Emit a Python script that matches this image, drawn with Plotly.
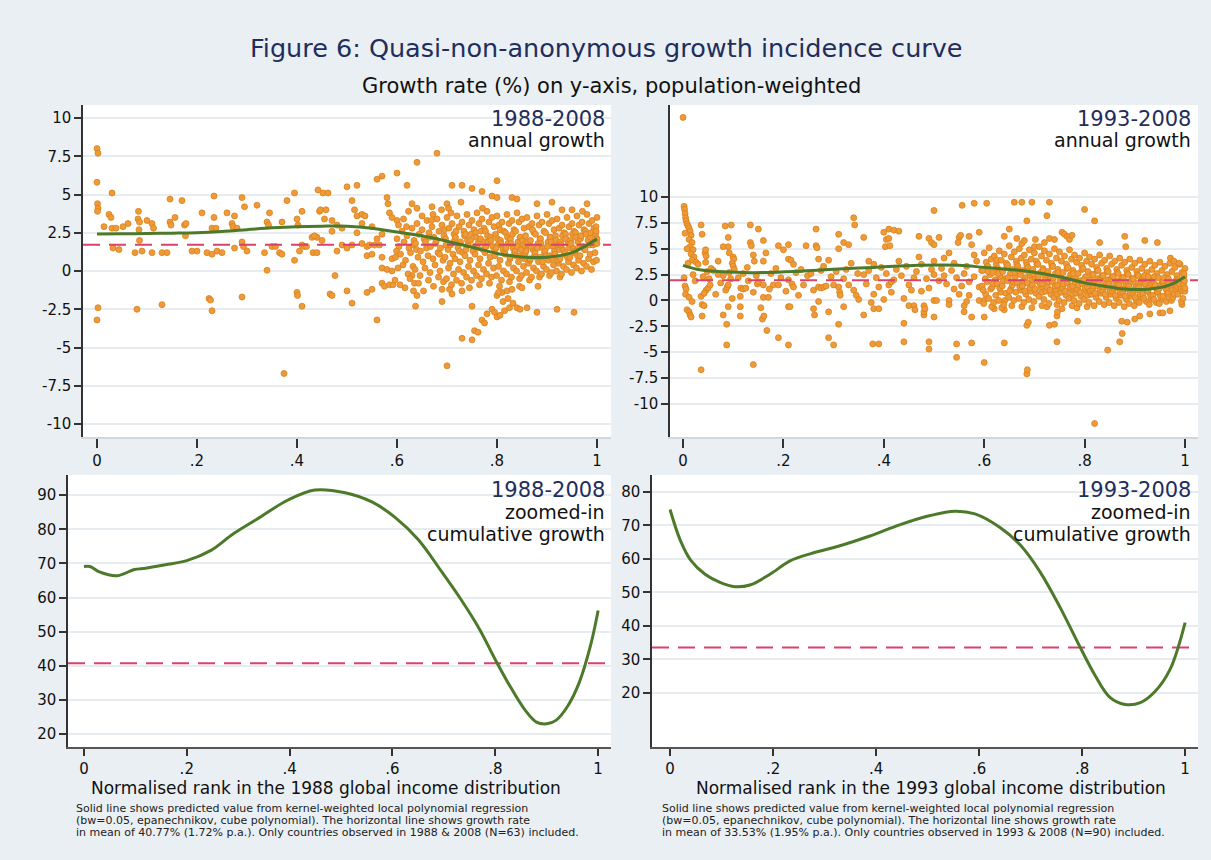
import plotly.graph_objects as go

TITLE = "Figure 6: Quasi-non-anonymous growth incidence curve"
SUBTITLE = "Growth rate (%) on y-axis, population-weighted"

tick_rank_vals = [0, 0.2, 0.4, 0.6, 0.8, 1.0]
tick_rank_text = ["0", ".2", ".4", ".6", ".8", "1"]
tick_annual_vals = [-10, -7.5, -5, -2.5, 0, 2.5, 5, 7.5, 10]
tick_annual_text = ["-10", "-7.5", "-5", "-2.5", "0", "2.5", "5", "7.5", "10"]
tick_cum88_vals = [20, 30, 40, 50, 60, 70, 80, 90]
tick_cum93_vals = [20, 30, 40, 50, 60, 70, 80]

# ---- 1988-2008 annual growth: (rank, growth %) ----
ann88_points = [
(0.000,8.0),(0.002,7.7),(0.000,5.8),(0.001,4.4),(0.002,4.1),(0.001,3.9),(0.002,-2.4),(0.000,-3.2),
(0.030,5.1),(0.024,3.7),(0.028,3.5),(0.014,2.9),(0.030,2.8),(0.038,2.8),(0.032,1.5),(0.044,1.4),
(0.052,2.9),(0.062,3.1),(0.076,1.2),(0.090,1.3),(0.082,3.4),(0.085,3.2),(0.083,3.9),(0.085,2.0),(0.080,-2.5),(0.084,2.7),
(0.100,3.3),(0.110,1.2),(0.110,3.1),(0.113,2.8),(0.130,1.2),(0.140,1.2),(0.130,-2.2),
(0.146,4.7),(0.146,3.2),(0.148,3.0),(0.156,3.5),(0.170,4.6),(0.175,3.0),(0.178,3.1),(0.177,2.3),
(0.190,1.3),(0.200,1.3),(0.210,3.8),(0.224,-1.8),(0.227,-1.9),(0.230,-2.6),
(0.220,1.2),(0.230,1.1),(0.240,1.3),(0.250,1.2),(0.234,4.9),(0.234,3.5),(0.230,2.8),(0.238,2.8),
(0.260,3.8),(0.270,3.1),(0.272,2.9),(0.275,1.5),(0.280,2.8),(0.290,4.8),(0.295,4.2),(0.290,1.9),(0.293,1.6),(0.300,1.3),(0.275,3.6),(0.290,-1.7),
(0.320,4.3),(0.335,1.2),(0.340,3.2),(0.343,3.0),(0.345,3.8),(0.340,0.05),(0.350,1.6),(0.357,1.6),(0.365,1.2),(0.370,1.1),(0.370,3.2),(0.374,-6.7),
(0.380,4.6),(0.395,5.1),(0.395,0.7),(0.400,3.4),(0.402,3.0),(0.410,3.9),(0.410,1.7),(0.415,1.6),(0.419,1.6),(0.405,1.3),(0.400,-1.4),(0.401,-1.6),(0.410,-2.3),
(0.430,2.2),(0.432,1.2),(0.440,1.2),(0.442,5.3),(0.445,3.9),(0.447,4.0),(0.452,5.1),(0.440,2.2),(0.455,3.4),(0.466,-1.5),
(0.462,5.1),(0.458,4.0),(0.470,3.3),(0.435,2.3),(0.450,2.0),
(0.476,-0.3),(0.470,-1.6),(0.500,-1.3),(0.510,-2.1),(0.540,-1.4),(0.550,-1.2),(0.560,-3.2),
(0.500,5.5),(0.520,5.6),(0.510,4.6),(0.515,4.0),(0.520,3.6),(0.530,3.7),(0.536,3.6),
(0.560,6.0),(0.570,6.2),(0.600,6.4),(0.620,5.6),(0.640,7.1),(0.680,7.7),
(0.580,4.8),(0.582,4.4),(0.585,3.8),(0.590,3.5),
(0.480,1.3),(0.490,1.7),(0.500,1.5),(0.510,1.7),(0.530,1.8),(0.540,1.6),(0.545,1.7),(0.555,1.7),(0.565,1.7),
(0.540,1.0),(0.550,1.1),(0.570,0.9),(0.590,0.8),(0.570,0.2),(0.580,0.1),(0.590,0.0),
(0.570,-0.8),(0.575,-1.0),(0.585,-0.9),(0.592,-0.9),
(0.470,2.6),(0.490,2.8),(0.520,2.5),(0.550,2.9),(0.570,2.4),(0.480,3.0),(0.530,3.1),(0.560,2.1),(0.600,3.3),
(0.710,5.6),(0.730,5.6),(0.750,5.4),(0.770,5.2),(0.790,4.9),(0.800,4.8),(0.830,4.8),(0.840,4.7),(0.800,5.9),(0.880,4.4),(0.910,4.5),(0.930,4.0),(0.950,4.0),(0.980,4.4),(0.630,4.4),(0.640,4.1),(0.650,3.6),(0.670,4.2),(0.672,3.7),(0.700,4.4),(0.703,4.1),
(0.630,-0.3),(0.635,-0.8),(0.633,-1.3),(0.640,-1.6),(0.637,-2.3),(0.690,-2.0),(0.700,-6.2),(0.690,-1.2),(0.710,-1.5),(0.730,-1.3),
(0.730,-4.4),(0.750,-4.5),(0.755,-3.9),(0.762,-4.0),(0.750,-2.3),(0.770,-3.2),(0.775,-3.4),(0.780,-2.8),(0.790,-2.5),(0.795,-2.7),(0.800,-3.0),(0.806,-2.9),
(0.800,-1.6),(0.810,-1.4),(0.812,-2.0),(0.815,-2.6),(0.820,-1.3),(0.822,-1.8),(0.825,-2.4),(0.830,-1.2),(0.832,-2.1),(0.840,-2.4),(0.845,-1.0),(0.850,-1.1),(0.846,-2.5),(0.860,-2.4),
(0.880,-2.7),(0.882,-1.0),(0.920,-2.5),(0.954,-2.7),(0.803,-1.4),
(0.600,2.1),(0.604,1.6),(0.597,0.9),(0.602,0.2),(0.596,-0.6),(0.603,3.0),(0.599,1.3),
(0.610,2.6),(0.614,1.9),(0.607,1.1),(0.612,0.4),(0.606,-0.9),(0.613,3.4),
(0.620,2.3),(0.624,1.5),(0.617,0.7),(0.622,-0.2),(0.616,-1.1),(0.623,3.9),(0.619,2.9),
(0.630,2.8),(0.634,2.0),(0.627,1.2),(0.632,0.3),(0.626,-0.5),(0.633,1.7),
(0.640,3.1),(0.644,2.4),(0.637,1.8),(0.642,0.9),(0.636,0.1),(0.643,-0.8),(0.639,1.4),
(0.650,2.7),(0.654,2.1),(0.647,1.3),(0.652,0.6),(0.646,-0.3),(0.653,-1.3),
(0.660,3.3),(0.664,2.5),(0.657,1.9),(0.662,1.0),(0.656,0.2),(0.663,-0.6),(0.659,1.5),(0.665,2.2),
(0.670,2.9),(0.674,2.2),(0.667,1.6),(0.672,0.8),(0.666,-0.1),(0.673,-1.0),(0.669,3.3),
(0.680,3.4),(0.684,2.6),(0.677,1.8),(0.682,1.2),(0.676,0.4),(0.683,-0.4),(0.679,2.0),(0.685,1.1),
(0.690,3.0),(0.694,2.3),(0.687,1.5),(0.692,0.7),(0.686,0.0),(0.693,-0.7),(0.689,4.0),(0.695,2.7),
(0.700,3.5),(0.704,2.8),(0.697,2.1),(0.702,1.4),(0.696,0.9),(0.703,0.2),(0.699,-0.5),(0.705,-1.2),(0.698,1.7),
(0.710,3.1),(0.714,2.4),(0.707,1.7),(0.712,1.1),(0.706,0.5),(0.713,-0.2),(0.709,-0.9),(0.715,2.0),(0.708,3.8),
(0.720,3.6),(0.724,2.9),(0.717,2.2),(0.722,1.5),(0.716,0.8),(0.723,0.1),(0.719,-0.6),(0.725,1.3),(0.718,2.6),
(0.730,3.2),(0.734,2.6),(0.727,1.9),(0.732,1.2),(0.726,0.6),(0.733,-0.1),(0.729,-0.8),(0.735,2.3),(0.728,4.5),
(0.740,3.7),(0.744,3.0),(0.737,2.4),(0.742,1.7),(0.736,1.0),(0.743,0.3),(0.739,-0.4),(0.745,-1.1),(0.738,1.4),(0.741,2.0),
(0.750,3.3),(0.754,2.7),(0.747,2.0),(0.752,1.3),(0.746,0.7),(0.753,0.0),(0.749,-0.6),(0.755,1.6),(0.748,2.4),
(0.760,3.8),(0.764,3.1),(0.757,2.5),(0.762,1.8),(0.756,1.1),(0.763,0.4),(0.759,-0.3),(0.765,-0.9),(0.758,2.2),(0.761,1.5),
(0.770,3.4),(0.774,2.8),(0.767,2.1),(0.772,1.4),(0.766,0.8),(0.773,0.1),(0.769,-0.5),(0.775,1.9),(0.768,2.6),(0.771,4.1),
(0.780,3.9),(0.784,3.2),(0.777,2.6),(0.782,1.9),(0.776,1.2),(0.783,0.5),(0.779,-0.2),(0.785,-0.8),(0.778,1.6),(0.781,2.3),
(0.790,3.5),(0.794,2.9),(0.787,2.2),(0.792,1.6),(0.786,0.9),(0.793,0.2),(0.789,-0.4),(0.795,1.3),(0.788,2.0),
(0.800,3.6),(0.804,3.0),(0.797,2.4),(0.802,1.7),(0.796,1.0),(0.803,0.3),(0.799,-0.3),(0.805,-1.0),(0.798,1.5),(0.801,2.1),(0.806,2.7),
(0.810,3.2),(0.814,2.6),(0.807,2.0),(0.812,1.4),(0.806,0.7),(0.813,0.0),(0.809,-0.6),(0.815,1.2),(0.808,1.8),
(0.820,3.7),(0.824,3.1),(0.817,2.5),(0.822,1.8),(0.816,1.1),(0.823,0.5),(0.819,-0.2),(0.825,-0.7),(0.818,1.5),(0.821,2.2),(0.826,0.8),
(0.830,3.3),(0.834,2.7),(0.827,2.1),(0.832,1.5),(0.826,0.9),(0.833,0.2),(0.829,-0.4),(0.835,1.2),(0.828,1.8),(0.831,2.4),
(0.840,3.8),(0.844,3.2),(0.837,2.6),(0.842,1.9),(0.836,1.3),(0.843,0.6),(0.839,0.0),(0.845,-0.5),(0.838,1.0),(0.841,1.6),(0.846,2.2),
(0.850,3.4),(0.854,2.8),(0.847,2.2),(0.852,1.6),(0.846,1.0),(0.853,0.3),(0.849,-0.3),(0.855,0.8),(0.848,1.4),(0.851,2.0),
(0.860,3.5),(0.864,2.9),(0.857,2.3),(0.862,1.7),(0.856,1.1),(0.863,0.5),(0.859,-0.1),(0.865,-0.6),(0.858,1.3),(0.861,1.9),(0.866,0.7),
(0.870,3.1),(0.874,2.5),(0.867,2.0),(0.872,1.4),(0.866,0.8),(0.873,0.2),(0.869,-0.4),(0.875,1.0),(0.868,1.6),(0.871,2.7),
(0.880,3.6),(0.884,3.0),(0.877,2.4),(0.882,1.8),(0.876,1.2),(0.883,0.6),(0.879,0.0),(0.885,-0.4),(0.878,0.9),(0.881,1.5),(0.886,2.1),
(0.890,3.2),(0.894,2.6),(0.887,2.1),(0.892,1.5),(0.886,0.9),(0.893,0.3),(0.889,-0.2),(0.895,1.2),(0.888,1.8),(0.891,0.6),
(0.900,3.7),(0.904,3.1),(0.897,2.5),(0.902,1.9),(0.896,1.3),(0.903,0.7),(0.899,0.1),(0.905,-0.3),(0.898,1.0),(0.901,1.6),(0.906,2.2),
(0.910,3.3),(0.914,2.7),(0.907,2.2),(0.912,1.6),(0.906,1.0),(0.913,0.4),(0.909,-0.1),(0.915,1.3),(0.908,1.9),(0.911,0.8),
(0.920,3.4),(0.924,2.8),(0.917,2.3),(0.922,1.7),(0.916,1.1),(0.923,0.5),(0.919,0.0),(0.925,1.4),(0.918,2.0),(0.921,0.7),(0.926,-0.4),
(0.930,3.0),(0.934,2.5),(0.927,1.9),(0.932,1.4),(0.926,0.8),(0.933,0.3),(0.929,-0.2),(0.935,1.1),(0.928,1.7),(0.931,2.3),
(0.940,3.5),(0.944,2.9),(0.937,2.4),(0.942,1.8),(0.936,1.2),(0.943,0.6),(0.939,0.1),(0.945,1.5),(0.938,2.1),(0.941,0.9),
(0.950,3.1),(0.954,2.6),(0.947,2.0),(0.952,1.5),(0.946,0.9),(0.953,0.4),(0.949,-0.1),(0.955,1.2),(0.948,1.8),(0.951,2.4),
(0.960,3.6),(0.964,3.0),(0.957,2.5),(0.962,1.9),(0.956,1.3),(0.963,0.7),(0.959,0.2),(0.965,1.6),(0.958,2.2),(0.961,1.0),
(0.970,3.2),(0.974,2.7),(0.967,2.1),(0.972,1.6),(0.966,1.0),(0.973,0.5),(0.969,0.0),(0.975,1.4),(0.968,2.3),(0.971,3.9),
(0.980,3.7),(0.984,3.1),(0.977,2.6),(0.982,2.0),(0.976,1.4),(0.983,0.8),(0.979,0.3),(0.985,1.7),(0.978,2.4),
(0.990,3.3),(0.994,2.8),(0.987,2.2),(0.992,1.7),(0.986,1.1),(0.993,0.6),(0.989,0.1),(0.995,1.9),(0.988,2.5),
(1.000,3.5),(0.998,2.9),(0.997,2.4),(1.000,1.8),(0.996,1.2),(0.999,0.7),(1.000,2.1),(0.998,2.6),
]

# ---- 1993-2008 annual growth: (rank, growth %) ----
ann93_points = [
(0.000,17.7),(0.002,9.1),(0.003,8.8),(0.004,8.4),(0.005,8.0),(0.006,7.7),(0.008,7.4),(0.010,7.2),(0.012,7.0),(0.014,6.7),(0.016,6.3),(0.012,5.9),(0.018,5.6),(0.014,5.2),(0.020,4.9),(0.016,4.5),(0.022,4.2),(0.018,3.9),(0.026,3.7),(0.030,3.5),(0.010,3.6),(0.004,6.5),(0.008,5.0),
(0.002,2.2),(0.004,1.4),(0.006,1.1),(0.005,0.6),(0.012,0.3),(0.018,-0.1),(0.008,-0.9),(0.012,-1.1),(0.014,-1.4),(0.016,-1.6),(0.020,2.5),(0.024,1.9),
(0.036,7.3),(0.038,6.4),(0.044,4.6),(0.045,4.9),(0.046,4.3),(0.045,3.7),(0.036,0.4),(0.038,-0.4),(0.042,-0.5),(0.046,1.0),(0.042,0.7),(0.050,1.2),(0.054,1.5),(0.038,-1.5),(0.036,-6.7),(0.040,2.3),(0.048,2.8),(0.052,2.1),(0.056,3.1),
(0.070,3.8),(0.070,2.5),(0.080,2.4),(0.080,-1.4),(0.085,1.0),(0.088,1.3),(0.090,1.5),(0.087,-2.3),(0.087,-4.3),(0.090,-0.6),(0.084,7.2),(0.096,7.3),(0.080,5.2),(0.090,5.2),(0.090,6.1),(0.092,4.6),(0.100,4.2),(0.101,4.0),(0.098,3.6),(0.100,3.3),(0.102,3.0),(0.095,2.1),(0.092,2.7),(0.098,0.2),(0.060,2.9),(0.065,0.6),(0.075,1.7),
(0.114,0.4),(0.114,-0.6),(0.114,-1.5),(0.115,1.2),(0.120,1.1),(0.125,1.2),(0.140,0.8),(0.140,-6.2),(0.130,1.9),(0.134,7.3),(0.150,6.9),(0.134,5.6),(0.136,5.3),(0.140,4.4),(0.142,3.8),(0.120,2.6),(0.128,3.2),(0.146,2.4),(0.110,2.2),(0.148,1.6),
(0.150,1.8),(0.160,1.5),(0.155,-0.7),(0.158,-1.8),(0.161,-1.5),(0.160,0.3),(0.170,0.3),(0.167,-2.9),(0.180,1.5),(0.190,1.5),(0.190,-3.6),(0.160,5.8),(0.165,4.6),(0.160,3.8),(0.190,5.3),(0.175,2.6),(0.185,3.1),(0.195,2.2),(0.172,1.1),
(0.200,4.9),(0.210,5.4),(0.210,4.0),(0.215,3.9),(0.220,3.5),(0.210,-0.6),(0.213,-0.6),(0.210,-4.3),(0.210,2.0),(0.217,1.6),(0.220,1.3),(0.230,0.5),(0.240,1.5),(0.245,5.3),(0.225,2.7),(0.235,3.0),(0.248,2.4),(0.205,0.9),
(0.265,6.9),(0.265,5.3),(0.267,5.1),(0.270,4.0),(0.260,1.0),(0.260,-0.8),(0.262,-1.4),(0.270,-0.1),(0.270,1.3),(0.275,1.2),(0.280,1.3),(0.285,1.4),(0.290,3.9),(0.290,-1.1),(0.290,-3.6),(0.300,-4.3),(0.300,1.5),(0.255,2.6),(0.275,2.9),(0.295,2.3),(0.280,3.3),
(0.310,6.4),(0.310,5.0),(0.320,5.6),(0.330,5.4),(0.310,1.3),(0.312,0.8),(0.313,0.5),(0.310,-2.3),(0.320,-0.6),(0.320,2.1),(0.330,1.5),(0.340,1.0),(0.345,0.5),(0.350,0.1),(0.340,8.0),(0.342,7.3),(0.325,3.0),(0.335,3.6),(0.348,2.6),(0.305,2.8),
(0.360,6.1),(0.370,3.8),(0.380,3.5),(0.360,-1.4),(0.375,-0.2),(0.380,-0.8),(0.390,-0.8),(0.380,0.6),(0.378,-4.2),(0.390,-4.2),(0.400,0.1),(0.360,2.5),(0.370,2.9),(0.385,2.2),(0.395,3.2),(0.365,1.6),(0.390,1.3),
(0.400,6.6),(0.405,5.9),(0.410,6.9),(0.403,5.2),(0.410,6.0),(0.412,5.3),(0.420,6.8),(0.430,6.7),(0.430,3.8),(0.410,1.5),(0.415,1.8),(0.420,2.0),(0.440,-4.0),(0.440,-2.2),(0.440,0.2),(0.450,-0.5),(0.450,1.5),(0.405,2.6),(0.425,3.0),(0.435,2.4),(0.445,3.3),(0.415,0.8),
(0.455,1.0),(0.460,-0.5),(0.462,-0.9),(0.470,6.2),(0.480,-1.4),(0.500,-1.6),(0.490,-4.0),(0.490,-4.7),(0.480,-1.1),(0.480,-0.5),(0.482,-0.8),(0.500,0.0),(0.505,0.0),(0.500,8.7),(0.490,6.0),(0.495,5.6),(0.500,5.4),(0.510,6.1),(0.465,2.8),(0.475,3.5),(0.485,2.1),(0.495,3.0),(0.470,4.2),(0.490,1.2),(0.460,2.2),(0.475,0.9),(0.500,2.5),(0.500,3.8),
(0.530,0.0),(0.530,-0.4),(0.545,-4.2),(0.545,-5.5),(0.550,6.1),(0.553,6.3),(0.548,5.6),(0.556,9.2),(0.520,2.4),(0.515,3.1),(0.525,1.6),(0.535,2.9),(0.540,3.6),(0.540,1.1),(0.510,1.9),(0.520,4.1),(0.530,4.6),(0.545,2.2),(0.550,0.6),
(0.560,-1.1),(0.560,-0.5),(0.565,-0.1),(0.575,-4.1),(0.575,-1.6),(0.590,0.0),(0.600,0.0),(0.600,-1.6),(0.600,-6.0),(0.580,9.4),(0.605,9.4),(0.570,6.2),(0.575,5.4),(0.590,6.6),(0.560,2.6),(0.565,3.3),(0.570,1.8),(0.580,2.3),(0.585,3.8),(0.590,1.3),(0.595,2.9),(0.580,4.4),(0.555,1.4),(0.570,0.5),
(0.620,-0.8),(0.640,-0.9),(0.641,0.0),(0.640,-4.1),(0.660,9.5),(0.675,9.5),(0.695,9.5),(0.730,9.5),(0.725,8.2),(0.685,7.7),(0.800,8.8),(0.820,7.7),(0.685,-7.1),(0.686,-6.7),(0.685,-2.4),(0.688,-2.1),(0.730,-2.4),(0.740,-2.3),(0.745,-1.5),(0.746,-1.1),(0.745,-4.0),(0.786,-2.0),(0.820,-11.9),(0.846,-4.8),(0.870,-4.0),(0.875,-3.2),(0.874,-2.0),(0.885,-2.1),(0.900,-1.8),(0.910,-1.5),(0.930,-1.3),(0.950,-1.2),(0.956,-1.2),(0.970,-1.0),(0.994,-0.4),
(0.640,6.2),(0.650,6.9),(0.665,6.0),(0.675,5.5),(0.680,5.8),(0.700,5.2),(0.702,5.9),(0.720,5.6),(0.730,6.0),(0.740,5.9),(0.755,6.6),(0.760,6.4),(0.765,6.2),(0.770,5.9),(0.775,6.3),(0.830,5.6),(0.880,6.2),(0.920,5.8),(0.945,5.6),(0.882,5.2),
(0.600,4.6),(0.604,3.7),(0.597,2.9),(0.602,2.1),(0.596,1.4),(0.603,0.6),(0.599,-0.3),(0.605,3.2),(0.598,1.0),
(0.610,5.1),(0.614,4.0),(0.607,3.3),(0.612,2.5),(0.606,1.8),(0.613,1.1),(0.609,0.2),(0.615,-0.6),(0.608,2.8),
(0.620,4.3),(0.624,3.5),(0.617,2.7),(0.622,2.0),(0.616,1.3),(0.623,0.5),(0.619,-0.2),(0.625,3.9),(0.618,1.6),
(0.630,4.8),(0.634,3.9),(0.627,3.1),(0.632,2.3),(0.626,1.6),(0.633,0.8),(0.629,0.0),(0.635,-0.7),(0.628,2.6),(0.631,1.2),
(0.640,4.5),(0.644,3.6),(0.637,2.8),(0.642,2.1),(0.636,1.4),(0.643,0.7),(0.639,-0.4),(0.645,3.2),(0.638,1.9),
(0.650,5.3),(0.654,4.2),(0.647,3.4),(0.652,2.6),(0.646,1.9),(0.653,1.1),(0.649,0.3),(0.655,-0.5),(0.648,2.2),(0.651,0.9),
(0.660,4.7),(0.664,3.8),(0.657,3.0),(0.662,2.3),(0.656,1.5),(0.663,0.8),(0.659,0.0),(0.665,3.5),(0.658,1.8),(0.661,2.7),
(0.670,5.0),(0.674,4.1),(0.667,3.3),(0.672,2.5),(0.666,1.7),(0.673,1.0),(0.669,0.2),(0.675,-0.6),(0.668,2.9),(0.671,1.3),
(0.680,4.4),(0.684,3.7),(0.677,2.9),(0.682,2.2),(0.676,1.4),(0.683,0.6),(0.679,-0.2),(0.685,3.4),(0.678,1.9),(0.681,0.9),
(0.690,4.9),(0.694,4.0),(0.687,3.2),(0.692,2.4),(0.686,1.7),(0.693,0.9),(0.689,0.1),(0.695,-0.7),(0.688,2.8),(0.691,1.2),(0.696,2.0),
(0.700,4.6),(0.704,3.8),(0.697,3.0),(0.702,2.2),(0.696,1.5),(0.703,0.7),(0.699,-0.1),(0.705,3.5),(0.698,2.6),(0.701,1.1),
(0.710,5.2),(0.714,4.3),(0.707,3.5),(0.712,2.7),(0.706,1.9),(0.713,1.2),(0.709,0.4),(0.715,-0.5),(0.708,2.3),(0.711,1.6),(0.716,0.8),
(0.720,4.8),(0.724,3.9),(0.717,3.1),(0.722,2.4),(0.716,1.6),(0.723,0.9),(0.719,0.1),(0.725,-0.6),(0.718,2.9),(0.721,2.0),
(0.730,4.5),(0.734,3.6),(0.727,2.8),(0.732,2.1),(0.726,1.3),(0.733,0.6),(0.729,-0.3),(0.735,3.3),(0.728,1.8),(0.731,1.0),
(0.740,5.0),(0.744,4.1),(0.737,3.3),(0.742,2.6),(0.736,1.8),(0.743,1.0),(0.739,0.3),(0.745,-0.4),(0.738,2.2),(0.741,1.4),(0.746,0.6),
(0.750,4.7),(0.754,3.8),(0.747,3.0),(0.752,2.3),(0.746,1.5),(0.753,0.8),(0.749,0.0),(0.755,-0.8),(0.748,2.7),(0.751,1.9),(0.756,1.2),
(0.760,4.3),(0.764,3.5),(0.757,2.7),(0.762,2.0),(0.756,1.2),(0.763,0.5),(0.759,-0.2),(0.765,3.1),(0.758,1.6),(0.761,0.9),
(0.770,4.9),(0.774,4.0),(0.767,3.2),(0.772,2.5),(0.766,1.7),(0.773,1.0),(0.769,0.2),(0.775,-0.5),(0.768,2.1),(0.771,1.3),(0.776,0.6),
(0.780,4.4),(0.784,3.7),(0.777,2.9),(0.782,2.2),(0.776,1.4),(0.783,0.7),(0.779,0.0),(0.785,-0.7),(0.778,2.6),(0.781,1.8),(0.786,1.1),
(0.790,4.1),(0.794,3.4),(0.787,2.6),(0.792,1.9),(0.786,1.1),(0.793,0.4),(0.789,-0.3),(0.795,3.0),(0.788,1.5),(0.791,0.8),
(0.800,4.6),(0.804,3.8),(0.797,3.1),(0.802,2.3),(0.796,1.6),(0.803,0.9),(0.799,0.1),(0.805,-0.6),(0.798,2.0),(0.801,1.2),(0.806,0.5),
(0.810,4.2),(0.814,3.5),(0.807,2.8),(0.812,2.0),(0.806,1.3),(0.813,0.6),(0.809,-0.2),(0.815,2.5),(0.808,1.7),(0.811,0.9),
(0.820,4.0),(0.824,3.2),(0.817,2.5),(0.822,1.8),(0.816,1.0),(0.823,0.3),(0.819,-0.5),(0.825,2.9),(0.818,1.4),(0.821,0.7),(0.826,2.1),
(0.830,4.4),(0.834,3.6),(0.827,2.9),(0.832,2.1),(0.826,1.4),(0.833,0.7),(0.829,-0.1),(0.835,2.4),(0.828,1.7),(0.831,1.0),
(0.840,3.9),(0.844,3.1),(0.837,2.4),(0.842,1.7),(0.836,1.0),(0.843,0.3),(0.839,-0.4),(0.845,2.8),(0.838,1.3),(0.841,0.6),(0.846,2.0),
(0.850,4.3),(0.854,3.5),(0.847,2.8),(0.852,2.0),(0.846,1.3),(0.853,0.6),(0.849,-0.2),(0.855,2.3),(0.848,1.6),(0.851,0.9),
(0.860,3.8),(0.864,3.0),(0.857,2.3),(0.862,1.6),(0.856,0.9),(0.863,0.2),(0.859,-0.5),(0.865,2.7),(0.858,1.2),(0.861,0.5),(0.866,1.9),
(0.870,4.1),(0.874,3.4),(0.867,2.6),(0.872,1.9),(0.866,1.2),(0.873,0.5),(0.869,-0.2),(0.875,2.2),(0.868,1.5),(0.871,0.8),
(0.880,3.7),(0.884,2.9),(0.877,2.2),(0.882,1.5),(0.876,0.8),(0.883,0.1),(0.879,-0.6),(0.885,2.6),(0.878,1.1),(0.881,0.4),(0.886,1.8),
(0.890,4.0),(0.894,3.2),(0.887,2.5),(0.892,1.8),(0.886,1.1),(0.893,0.4),(0.889,-0.3),(0.895,2.1),(0.888,1.4),(0.891,0.7),
(0.900,3.6),(0.904,2.8),(0.897,2.1),(0.902,1.4),(0.896,0.7),(0.903,0.0),(0.899,-0.5),(0.905,2.5),(0.898,1.0),(0.901,0.3),(0.906,1.7),
(0.910,3.9),(0.914,3.1),(0.907,2.4),(0.912,1.7),(0.906,1.0),(0.913,0.3),(0.909,-0.2),(0.915,2.0),(0.908,1.3),(0.911,0.6),
(0.920,3.5),(0.924,2.7),(0.917,2.0),(0.922,1.3),(0.916,0.6),(0.923,-0.1),(0.919,2.4),(0.925,0.9),(0.918,0.2),(0.921,1.6),
(0.930,3.8),(0.934,3.0),(0.927,2.3),(0.932,1.6),(0.926,0.9),(0.933,0.2),(0.929,-0.4),(0.935,1.9),(0.928,1.2),(0.931,0.5),
(0.940,3.4),(0.944,2.6),(0.937,1.9),(0.942,1.2),(0.936,0.5),(0.943,-0.2),(0.939,2.3),(0.945,0.8),(0.938,0.1),(0.941,1.5),
(0.950,3.7),(0.954,2.9),(0.947,2.2),(0.952,1.5),(0.946,0.8),(0.953,0.1),(0.949,-0.3),(0.955,1.8),(0.948,1.1),(0.951,0.4),
(0.960,3.3),(0.964,2.5),(0.957,1.8),(0.962,1.1),(0.956,0.4),(0.963,-0.1),(0.959,2.2),(0.965,0.7),(0.958,1.4),
(0.970,3.6),(0.974,2.8),(0.967,2.1),(0.972,1.4),(0.966,0.7),(0.973,0.0),(0.969,1.7),(0.975,1.0),(0.968,0.3),(0.971,4.1),
(0.980,3.2),(0.984,2.4),(0.977,1.7),(0.982,1.0),(0.976,0.3),(0.983,2.0),(0.979,0.6),(0.985,1.3),(0.978,3.8),
(0.990,3.5),(0.994,2.7),(0.987,2.0),(0.992,1.3),(0.986,0.6),(0.993,-0.1),(0.989,1.6),(0.995,0.9),(0.988,3.6),
(1.000,3.1),(0.998,2.3),(0.997,1.6),(1.000,0.9),(0.996,0.2),(0.999,1.9),(1.000,1.2),(0.998,2.6),
]

# ---- smoothed (kernel-weighted local polynomial) fits ----
fit88_rank = [0, 0.05, 0.1, 0.15, 0.2, 0.25, 0.3, 0.35, 0.4, 0.45, 0.5, 0.55, 0.6, 0.65, 0.7, 0.75, 0.8, 0.85, 0.9, 0.95, 1.0]
fit88_annual = [2.42, 2.43, 2.45, 2.47, 2.5, 2.58, 2.7, 2.82, 2.9, 2.93, 2.93, 2.8, 2.55, 2.3, 1.95, 1.55, 1.15, 0.92, 0.9, 1.2, 2.1]

fit93_rank = [0, 0.03, 0.07, 0.12, 0.16, 0.22, 0.29, 0.38, 0.47, 0.55, 0.6, 0.65, 0.69, 0.75, 0.8, 0.85, 0.88, 0.93, 0.97, 1.0]
fit93_annual = [3.4, 3.0, 2.8, 2.7, 2.7, 2.8, 3.0, 3.2, 3.4, 3.4, 3.2, 3.0, 2.8, 2.3, 1.7, 1.3, 1.1, 1.1, 1.5, 2.3]

cum88_rank = [0, 0.012, 0.03, 0.065, 0.098, 0.12, 0.158, 0.2, 0.247, 0.29, 0.337, 0.396, 0.449, 0.508, 0.56, 0.605,
              0.65, 0.695, 0.732, 0.769, 0.8, 0.829, 0.858, 0.88, 0.9, 0.918, 0.94, 0.963, 0.985, 1.0]
cum88_growth = [69.1, 69.1, 67.5, 66.4, 68.2, 68.6, 69.6, 70.8, 73.8, 78.6, 83.0, 88.5, 91.5, 90.7, 88.0, 83.5,
                77.0, 67.7, 59.7, 50.8, 41.8, 33.9, 27.0, 23.5, 23.0, 24.0, 28.0, 35.0, 45.8, 56.2]

cum93_rank = [0, 0.02, 0.04, 0.068, 0.097, 0.126, 0.155, 0.194, 0.233, 0.272, 0.33, 0.388, 0.447, 0.505, 0.553, 0.592,
              0.64, 0.68, 0.718, 0.757, 0.796, 0.825, 0.854, 0.883, 0.913, 0.942, 0.971, 1.0]
cum93_growth = [74.7, 65.5, 59.6, 55.4, 53.0, 51.7, 52.2, 55.4, 59.4, 61.5, 63.9, 66.8, 70.2, 72.9, 74.2, 73.4,
                69.4, 64.1, 56.2, 45.6, 33.7, 25.3, 18.7, 16.6, 17.1, 20.5, 27.1, 41.0]

mean_annual_88 = 1.72
mean_cum_88 = 40.77
mean_annual_93 = 1.95
mean_cum_93 = 33.53

notes_88 = ["Solid line shows predicted value from kernel-weighted local polynomial regression",
            "(bw=0.05, epanechnikov, cube polynomial). The horizontal line shows growth rate",
            "in mean of 40.77% (1.72% p.a.). Only countries observed in 1988 & 2008 (N=63) included."]
notes_93 = ["Solid line shows predicted value from kernel-weighted local polynomial regression",
            "(bw=0.05, epanechnikov, cube polynomial). The horizontal line shows growth rate",
            "in mean of 33.53% (1.95% p.a.). Only countries observed in 1993 & 2008 (N=90) included."]

# ---------------- styling / layout ----------------
W, H = 1211, 860
FONT = "DejaVu Sans, Liberation Sans, sans-serif"
BG = "#e9eff3"
GRID = "#e6ecf0"
ORANGE = "#EE9A3A"
ORANGE_EDGE = "#DB8217"
GREEN = "#4C7A2A"
PINK = "#D8436E"
NAVY = "#1F2E5C"
DASH = "17px,9px"


def px(x):
    return x / W


def py(y):
    return 1 - y / H


panels = {
    "tl": dict(x=(83, 611), y=(105, 437), xr=[-0.028, 1.028], yr=[-10.85, 10.85]),
    "tr": dict(x=(670, 1198), y=(105, 437), xr=[-0.026, 1.026], yr=[-13.2, 18.9]),
    "bl": dict(x=(68, 611), y=(475, 747), xr=[-0.031, 1.025], yr=[16.2, 95.9]),
    "br": dict(x=(652, 1198), y=(475, 747), xr=[-0.035, 1.025], yr=[3.9, 85.0]),
}
axis_ids = {"tl": ("x", "y"), "tr": ("x2", "y2"), "bl": ("x3", "y3"), "br": ("x4", "y4")}

fig = go.Figure()


def add_scatter(points, ax):
    xa, ya = axis_ids[ax]
    fig.add_trace(go.Scatter(
        x=[p[0] for p in points], y=[p[1] for p in points], mode="markers",
        marker=dict(size=6, color=ORANGE, line=dict(color=ORANGE_EDGE, width=0.8)),
        xaxis=xa, yaxis=ya, hoverinfo="skip"))


def add_mean(val, ax):
    xa, ya = axis_ids[ax]
    xr = panels[ax]["xr"]
    fig.add_trace(go.Scatter(x=[xr[0], xr[1]], y=[val, val], mode="lines",
                             line=dict(color=PINK, width=2, dash=DASH),
                             xaxis=xa, yaxis=ya, hoverinfo="skip"))


def add_fit(xs, ys, ax):
    xa, ya = axis_ids[ax]
    fig.add_trace(go.Scatter(x=xs, y=ys, mode="lines",
                             line=dict(color=GREEN, width=3, shape="spline", smoothing=1.0),
                             xaxis=xa, yaxis=ya, hoverinfo="skip"))


add_scatter(ann88_points, "tl")
add_mean(mean_annual_88, "tl")
add_fit(fit88_rank, fit88_annual, "tl")

add_scatter(ann93_points, "tr")
add_mean(mean_annual_93, "tr")
add_fit(fit93_rank, fit93_annual, "tr")

add_mean(mean_cum_88, "bl")
add_fit(cum88_rank, cum88_growth, "bl")

add_mean(mean_cum_93, "br")
add_fit(cum93_rank, cum93_growth, "br")

layout = dict(
    width=W, height=H, autosize=False,
    margin=dict(l=0, r=0, t=0, b=0, pad=0),
    paper_bgcolor=BG, plot_bgcolor="white",
    showlegend=False, hovermode=False,
    font=dict(family=FONT, size=15, color="#111"),
)

for key, (xa, ya) in axis_ids.items():
    p = panels[key]
    xname = "xaxis" if xa == "x" else "xaxis" + xa[1:]
    yname = "yaxis" if ya == "y" else "yaxis" + ya[1:]
    top = key in ("tl", "tr")
    if top:
        yt_vals, yt_text = tick_annual_vals, tick_annual_text
    elif key == "bl":
        yt_vals, yt_text = tick_cum88_vals, [str(v) for v in tick_cum88_vals]
    else:
        yt_vals, yt_text = tick_cum93_vals, [str(v) for v in tick_cum93_vals]
    layout[xname] = dict(
        domain=[px(p["x"][0]), px(p["x"][1])], range=p["xr"], anchor=ya,
        tickvals=tick_rank_vals, ticktext=tick_rank_text,
        ticks="outside", ticklen=9 if top else 7, tickwidth=1.5, tickcolor="#333",
        showline=True, linecolor="#cfd7dc" if top else "#555", linewidth=1.5,
        showgrid=False, zeroline=False, tickfont=dict(size=15, color="#111"),
        fixedrange=True,
    )
    layout[yname] = dict(
        domain=[py(p["y"][1]), py(p["y"][0])], range=p["yr"], anchor=xa,
        tickvals=yt_vals, ticktext=yt_text,
        ticks="outside", ticklen=7, tickwidth=1.5, tickcolor="#333",
        showline=True, linecolor="#333", linewidth=1.5,
        showgrid=True, gridcolor=GRID, gridwidth=1.5, zeroline=False,
        tickfont=dict(size=15, color="#111"), fixedrange=True,
    )

fig.update_layout(**layout)

ann = []


def text(x, y, s, size, color="#111", xanchor="center"):
    ann.append(dict(x=px(x), y=py(y), xref="paper", yref="paper", text=s, showarrow=False,
                    xanchor=xanchor, yanchor="middle", font=dict(family=FONT, size=size, color=color)))


text(606, 48, TITLE, 25.5, NAVY)
text(611, 86, SUBTITLE, 21, "#111")

text(607, 119, "1988-2008", 21, NAVY, "right")
text(607, 140, "annual growth", 19, "#111", "right")
text(1193, 119, "1993-2008", 21, NAVY, "right")
text(1193, 140, "annual growth", 19, "#111", "right")

for xr_, period in ((607, "1988-2008"), (1193, "1993-2008")):
    text(xr_, 490, period, 21, NAVY, "right")
    text(xr_, 512, "zoomed-in", 19, "#111", "right")
    text(xr_, 534, "cumulative growth", 19, "#111", "right")

text(326, 788, "Normalised rank in the 1988 global income distribution", 17)
text(931, 788, "Normalised rank in the 1993 global income distribution", 17)

for i, line in enumerate(notes_88):
    text(74, 808 + 12 * i, line, 11, "#222", "left")
for i, line in enumerate(notes_93):
    text(660, 808 + 12 * i, line, 11, "#222", "left")

fig.update_layout(annotations=ann)

fig.write_html("out.html", include_plotlyjs=True, config={"displayModeBar": False},
               post_script="document.body.style.margin='0';document.body.style.background='" + BG + "';")
